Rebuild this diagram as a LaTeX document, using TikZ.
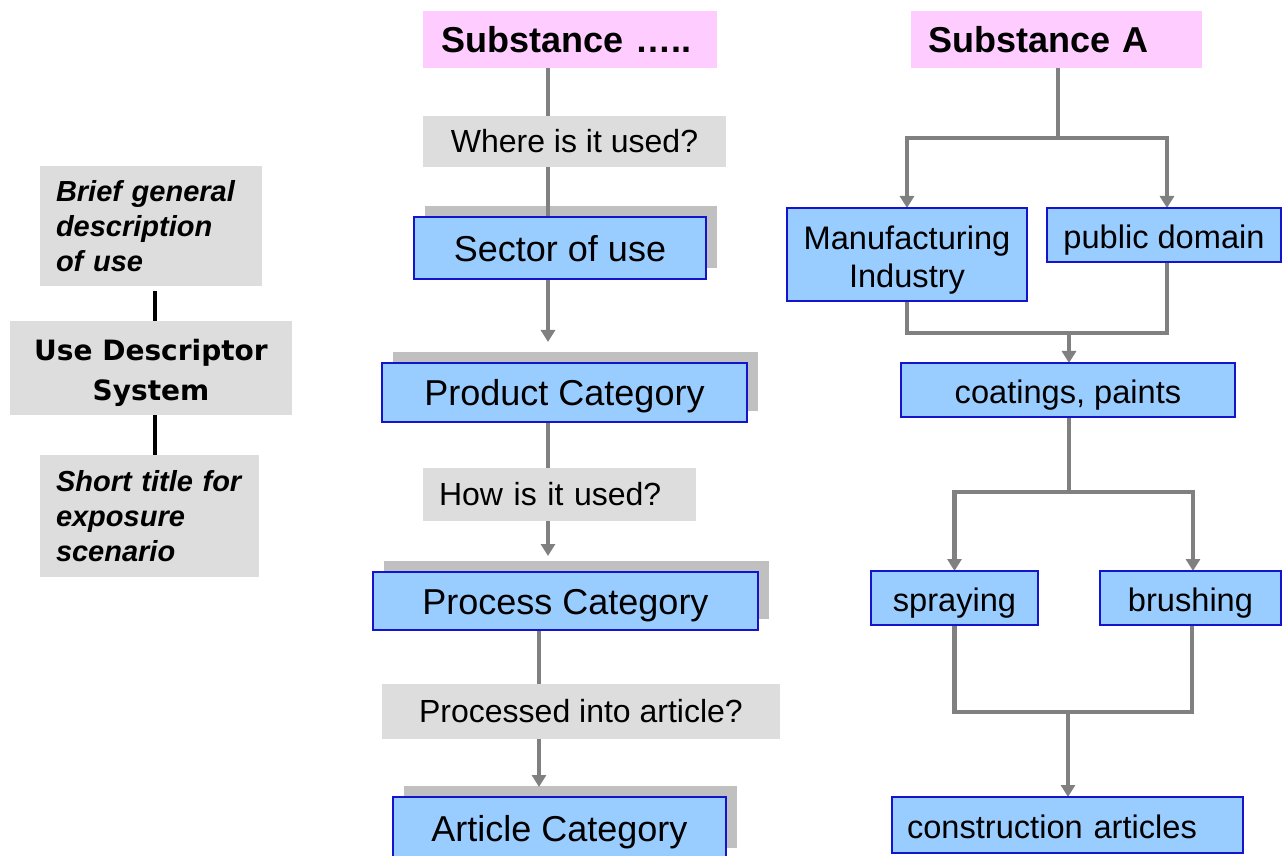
\documentclass[tikz,border=0pt]{standalone}
\usepackage{fontspec}
\setmainfont{Liberation Sans}
\newfontfamily\dvsans{DejaVu Sans}
\usetikzlibrary{arrows.meta}

\definecolor{boxblue}{HTML}{99CCFF}
\definecolor{boxedge}{HTML}{1414CC}
\definecolor{boxpink}{HTML}{FFCCFF}
\definecolor{boxgray}{HTML}{DDDDDD}
\definecolor{shadegray}{HTML}{C0C0C0}
\definecolor{linkgray}{HTML}{808080}

\pgfdeclarelayer{shade}
\pgfdeclarelayer{links}
\pgfsetlayers{shade,links,main}

\tikzset{
  box/.style={rectangle, inner sep=0pt, outer sep=0pt, anchor=center},
  catbox/.style={box, fill=boxblue, draw=boxedge, line width=1pt,
    text height=17.1pt, text depth=3.8pt,
    font=\fontsize{18}{21}\selectfont},
  usebox/.style={box, fill=boxblue, draw=boxedge, line width=1pt, align=center,
    font=\fontsize{16.3}{19}\selectfont},
  oneline/.style={text height=16.6pt, text depth=3.4pt},
  question/.style={box, fill=boxgray, font=\fontsize{16}{19}\selectfont},
  titlebox/.style={box, fill=boxpink, align=left,
    font=\bfseries\fontsize{18}{21}\selectfont},
  descbox/.style={box, fill=boxgray, align=left,
    font=\bfseries\itshape\fontsize{14.5}{17.5}\selectfont},
  link/.style={draw=linkgray, line width=2.4pt},
  blackline/.style={draw=black, line width=2.3pt},
  arrowed/.style={-{Triangle[width=7pt,length=6pt]}}
}

\begin{document}
\begin{tikzpicture}[x=0.5pt,y=-0.5pt]
\useasboundingbox (0,0) rectangle (1282,856);

% ---- left column: use descriptor system
\node[descbox, minimum width=111pt, minimum height=60pt, text width=95pt, inner xsep=8pt]
  (brief) at (151,226) {Brief general\\description\\of use};
\node[box, fill=boxgray, align=center, minimum width=141pt, minimum height=47pt,
  text height=35.6pt, font=\dvsans\bfseries\fontsize{14}{20}\selectfont]
  (uds) at (151,368) {Use Descriptor\\System};
\node[descbox, minimum width=109.5pt, minimum height=61pt, text width=93.5pt, inner xsep=8pt]
  (short) at (149.5,516) {Short title for\\exposure\\scenario};

% ---- middle column: generic chain
\node[titlebox, minimum width=147pt, minimum height=28.5pt, text width=129pt, inner xsep=9pt]
  (sub1) at (570,39.5) {Substance …..};
\node[question, minimum width=151.5pt, minimum height=25.5pt]
  (q1) at (574.5,141.5) {Where is it used?};
\node[catbox, minimum width=146pt, minimum height=31pt]
  (sec) at (560,248) {Sector of use};
\node[catbox, minimum width=182.5pt, minimum height=29.5pt]
  (prod) at (564.5,392.5) {Product Category};
\node[question, minimum width=136.5pt, minimum height=26.5pt, text width=120.5pt,
  inner xsep=8pt, align=left]
  (q2) at (559.5,494.5) {How is it used?};
\node[catbox, minimum width=192.5pt, minimum height=29pt]
  (proc) at (565.5,601) {Process Category};
\node[question, minimum width=199pt, minimum height=27.5pt]
  (q3) at (581,711.5) {Processed into article?};
\node[catbox, minimum width=166.5pt, minimum height=31pt]
  (art) at (559.5,828) {Article Category};

% ---- right column: example substance
\node[titlebox, minimum width=145.5pt, minimum height=28.5pt, text width=128.5pt, inner xsep=8.5pt]
  (subA) at (1056.5,39.5) {Substance A};
\node[usebox, minimum width=120pt, minimum height=46.5pt, text height=35.9pt]
  (mfg) at (907,254.5) {Manufacturing\\Industry};
\node[usebox, oneline, minimum width=117pt, minimum height=27pt]
  (pub) at (1164,235) {public domain};
\node[usebox, oneline, minimum width=167pt, minimum height=27pt]
  (coat) at (1068,390) {coatings, paints};
\node[usebox, oneline, minimum width=83.5pt, minimum height=27pt]
  (spray) at (954.5,598) {spraying};
\node[usebox, oneline, minimum width=90.5pt, minimum height=27pt]
  (brush) at (1190.5,598) {brushing};
\node[usebox, oneline, minimum width=175.5pt, minimum height=28pt, text width=160.5pt,
  inner xsep=7.5pt, align=left]
  (constr) at (1067.5,825) {construction articles};

% ---- raised shadows behind the category boxes
\begin{pgfonlayer}{shade}
  \foreach \n in {sec,prod,proc,art}
    \fill[shadegray] ([shift={(5.5pt,5.5pt)}]\n.south west)
      rectangle ([shift={(5.5pt,5.5pt)}]\n.north east);
\end{pgfonlayer}

% ---- connectors
\begin{pgfonlayer}{links}
  % left column
  \draw[blackline] ([xshift=2pt]brief.south) ++(0,5) -- ([xshift=2pt]uds.north);
  \draw[blackline] ([xshift=2pt]uds.south) -- ([xshift=2pt]uds.south |- short.north);

  % middle column
  \coordinate (cx) at (548,0);
  \coordinate (cy) at (539,0);
  \draw[link] (cx |- sub1.south) -- (cx |- sec.north);
  \draw[link, arrowed] (cx |- sec.south) -- ([yshift=10.5pt]cx |- prod.north);
  \draw[link, arrowed] (cx |- prod.south) -- ([yshift=8pt]cx |- proc.north);
  \draw[link, arrowed] (cy |- proc.south) -- ([yshift=5pt]cy |- art.north);

  % right column
  \draw[link] ([xshift=0.75pt]subA.south) -- ++(0,70) coordinate (j1);
  \draw[link, arrowed] (j1) -| (mfg.north);
  \draw[link, arrowed] (j1) -| ([xshift=1.5pt]pub.north);
  \coordinate (j2) at (1069,333);
  \draw[link] (mfg.south) |- (j2) -| ([xshift=1.5pt]pub.south);
  \draw[link, arrowed] (j2) -- (j2 |- coat.north);
  \draw[link] (j2 |- coat.south) -- ++(0,75) coordinate (j3);
  \draw[link, arrowed] (j3) -| (spray.north);
  \draw[link, arrowed] (j3) -| ([xshift=1.25pt]brush.north);
  \coordinate (j4) at (1068,712);
  \draw[link] (spray.south) |- (j4) -| ([xshift=0.75pt]brush.south);
  \draw[link, arrowed] (j4) -- (j4 |- constr.north);
\end{pgfonlayer}
\end{tikzpicture}
\end{document}
